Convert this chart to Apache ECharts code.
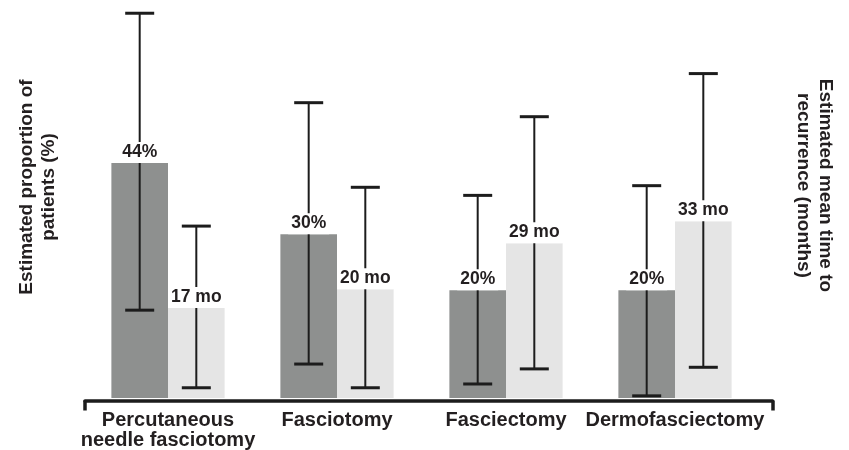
<!DOCTYPE html>
<html><head><meta charset="utf-8">
<script src="https://cdn.jsdelivr.net/npm/echarts@6/dist/echarts.min.js"></script>
<style>html,body{margin:0;padding:0;background:#fff}#c{width:849px;height:450px}</style>
</head><body><div id="c"></div>
<script>
const categories = ['Percutaneous\nneedle fasciotomy', 'Fasciotomy', 'Fasciectomy', 'Dermofasciectomy'];
const proportion = [43.6, 30.4, 20.0, 20.0];
const proportionLow = [16.3, 6.3, 2.6, 0.4];
const proportionHigh = [71.4, 54.8, 37.6, 39.4];
const months = [16.7, 20.2, 28.7, 32.8];
const monthsLow = [1.9, 1.9, 5.4, 5.7];
const monthsHigh = [31.9, 39.1, 52.2, 60.2];
const proportionTitle = 'Estimated proportion of\npatients (%)';
const monthsTitle = 'Estimated mean time to\nrecurrence (months)';

const FONT = '"Liberation Sans", Arial, Helvetica, sans-serif';
const INK = '#231f20';
const LINE = '#1c1c1c';
const GAP = 0.33;

function errorRenderer(side, fmt) {
  return function (params, api) {
    const i = api.value(0);
    const band = api.size([1, 0])[0];
    const bw = band * (1 - GAP) / 2;
    const top = api.coord([i, api.value(3)]);
    const bot = api.coord([i, api.value(2)]);
    const bar = api.coord([i, api.value(1)]);
    const x = top[0] + side * bw / 2;
    const cap = 14.5;
    return {
      type: 'group',
      children: [
        { type: 'line', shape: { x1: x, y1: top[1], x2: x, y2: bot[1] }, style: { stroke: LINE, lineWidth: 2 } },
        { type: 'line', shape: { x1: x - cap, y1: top[1], x2: x + cap, y2: top[1] }, style: { stroke: LINE, lineWidth: 3 } },
        { type: 'line', shape: { x1: x - cap, y1: bot[1], x2: x + cap, y2: bot[1] }, style: { stroke: LINE, lineWidth: 3 } },
        { type: 'text', x: x, y: bar[1], z2: 10,
          style: { text: fmt(api.value(1)), font: 'bold 17.5px ' + FONT, fill: INK,
                   backgroundColor: '#ffffff', padding: [1, 3, 2, 3],
                   align: 'center', verticalAlign: 'bottom' } }
      ]
    };
  };
}

const chart = echarts.init(document.getElementById('c'), null, { renderer: 'canvas' });
chart.setOption({
  animation: false,
  backgroundColor: '#ffffff',
  grid: [
    { left: 83.5, right: 89.5, top: 10, bottom: 51 },
    { left: 85, right: 76.5, top: 10, bottom: 49.5 }
  ],
  xAxis: [
    { type: 'category', gridIndex: 0, data: categories,
      axisLine: { show: false }, axisTick: { show: false }, splitLine: { show: false },
      axisLabel: { fontSize: 20, fontWeight: 'bold', color: INK, fontFamily: FONT, lineHeight: 20, margin: 12, interval: 0 } },
    { type: 'value', gridIndex: 1, min: 0, max: 1, interval: 1, position: 'bottom',
      axisLine: { show: true, onZero: false, lineStyle: { color: LINE, width: 3.5 } },
      axisTick: { show: true, length: 10, lineStyle: { color: LINE, width: 3.5 } },
      axisLabel: { show: false }, splitLine: { show: false } }
  ],
  yAxis: [
    { type: 'value', gridIndex: 0, min: 0, max: 72, position: 'left',
      axisLine: { show: false }, axisTick: { show: false }, axisLabel: { show: false }, splitLine: { show: false },
      name: proportionTitle, nameLocation: 'middle', nameRotate: 90, nameGap: 24,
      nameTextStyle: { fontSize: 19, fontWeight: 'bold', color: INK, fontFamily: FONT, lineHeight: 22, padding: [0, 0, 0, 34] } },
    { type: 'value', gridIndex: 0, min: 0, max: 72, position: 'right',
      axisLine: { show: false }, axisTick: { show: false }, axisLabel: { show: false }, splitLine: { show: false },
      name: monthsTitle, nameLocation: 'middle', nameRotate: -90, nameGap: 33,
      nameTextStyle: { fontSize: 19, fontWeight: 'bold', color: INK, fontFamily: FONT, lineHeight: 22, padding: [0, 37, 0, 0] } },
    { type: 'value', gridIndex: 1, min: 0, max: 1, show: false }
  ],
  series: [
    { type: 'bar', name: 'Proportion', xAxisIndex: 0, yAxisIndex: 0, data: proportion,
      barGap: 0, barCategoryGap: (GAP * 100) + '%', itemStyle: { color: '#8e908f' }, z: 2 },
    { type: 'bar', name: 'Months', xAxisIndex: 0, yAxisIndex: 1, data: months,
      barGap: 0, barCategoryGap: (GAP * 100) + '%', itemStyle: { color: '#e5e5e5' }, z: 2 },
    { type: 'custom', xAxisIndex: 0, yAxisIndex: 0, z: 5,
      data: proportion.map((v, i) => [i, v, proportionLow[i], proportionHigh[i]]),
      encode: { x: 0, y: 1 },
      renderItem: errorRenderer(-1, v => Math.round(v) + '%') },
    { type: 'custom', xAxisIndex: 0, yAxisIndex: 1, z: 5,
      data: months.map((v, i) => [i, v, monthsLow[i], monthsHigh[i]]),
      encode: { x: 0, y: 1 },
      renderItem: errorRenderer(1, v => Math.round(v) + ' mo') }
  ]
});
</script>
</body></html>
